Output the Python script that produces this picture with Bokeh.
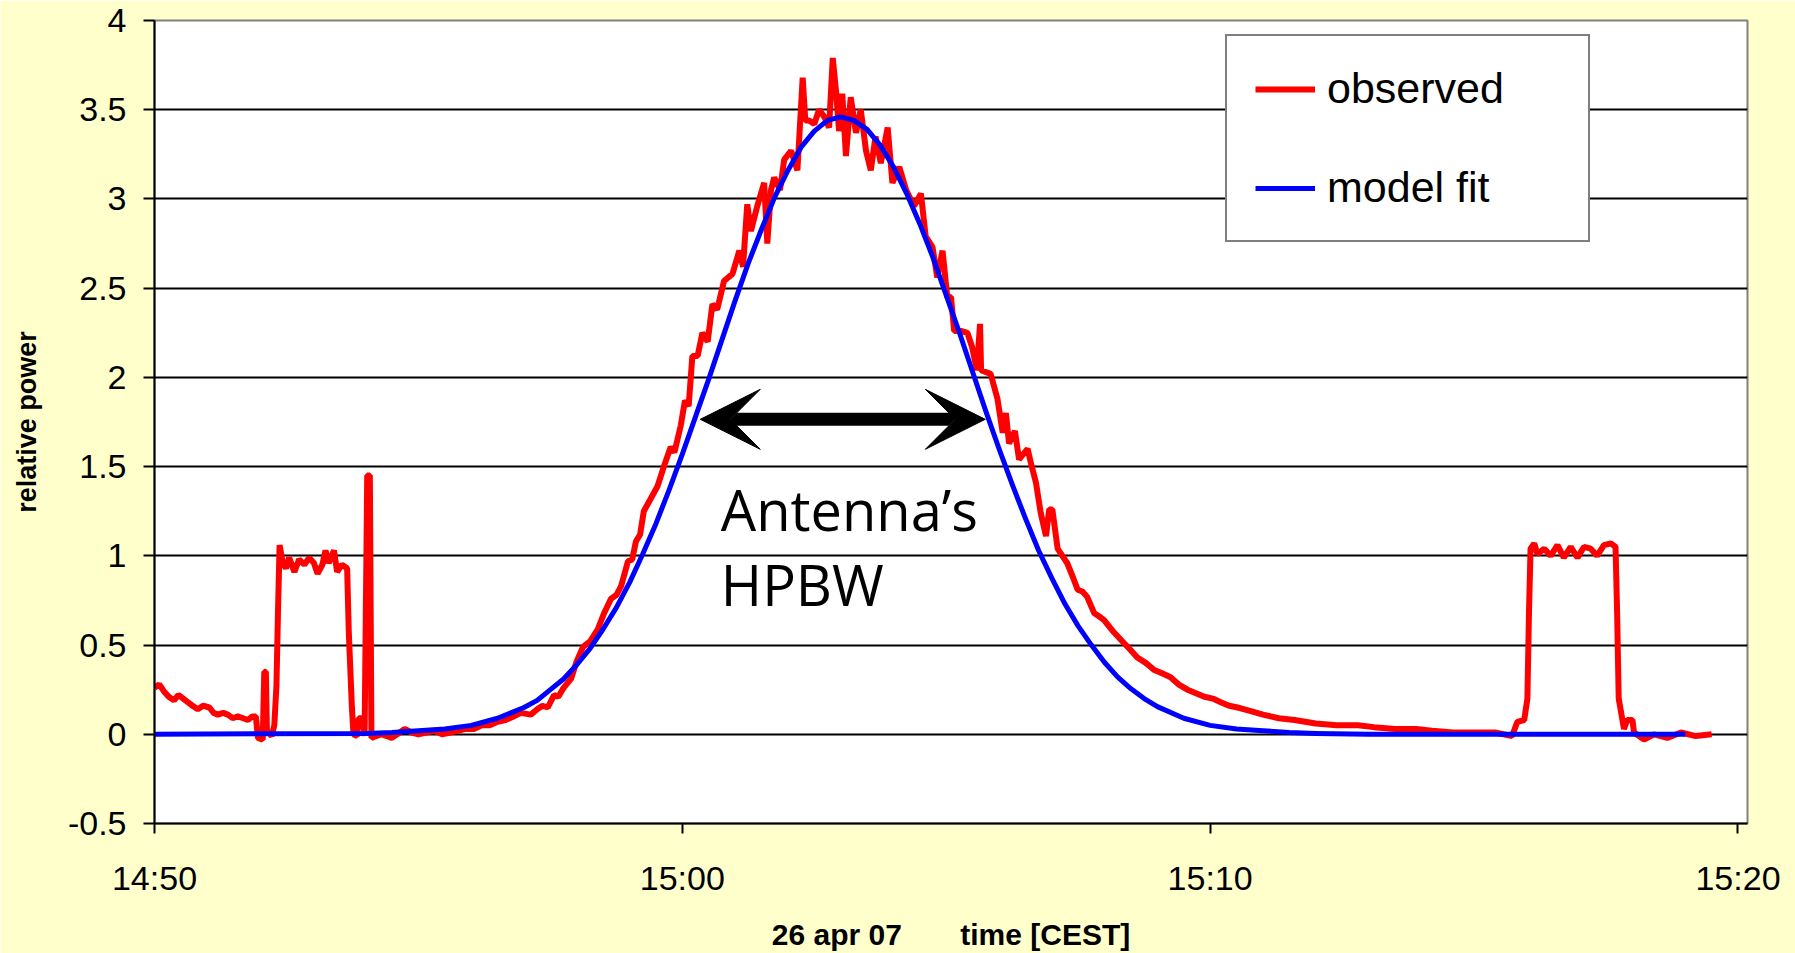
from bokeh.plotting import figure
from bokeh.models import (FixedTicker, Range1d, Legend, LegendItem, Label, Arrow,
                          VeeHead, NumeralTickFormatter)
from bokeh.embed import file_html
from bokeh.resources import INLINE

# ---------------- data (minutes after 14:50, relative power) ----------------
obs_t = [0.00, 0.09, 0.18, 0.27, 0.37, 0.45, 0.50, 0.63, 0.72, 0.82, 0.92, 1.04, 1.12, 1.20,
         1.30, 1.39, 1.48, 1.58, 1.68, 1.77, 1.85, 1.92, 1.96, 2.05, 2.08, 2.11, 2.13, 2.22,
         2.27, 2.31, 2.34, 2.37, 2.43, 2.49, 2.55, 2.65, 2.74, 2.84, 2.93, 3.02, 3.09, 3.18,
         3.24, 3.30, 3.40, 3.46, 3.55, 3.65, 3.68, 3.74, 3.77, 3.84, 3.87, 3.95, 3.98, 4.03,
         4.08, 4.11, 4.20, 4.30, 4.40, 4.49, 4.60, 4.74, 4.87, 5.00, 5.15, 5.30, 5.45, 5.60,
         5.75, 5.90, 6.05, 6.20, 6.35, 6.50, 6.65, 6.80, 6.94, 7.13, 7.25, 7.35, 7.45, 7.57,
         7.65, 7.75, 7.89, 8.00, 8.12, 8.25, 8.40, 8.52, 8.65, 8.75, 8.84, 8.97, 9.05, 9.12,
         9.20, 9.27, 9.40, 9.53, 9.65, 9.78, 9.85, 9.97, 10.05, 10.12, 10.19, 10.29, 10.38,
         10.48, 10.57, 10.66, 10.79, 10.95, 11.08, 11.15, 11.23, 11.30, 11.42, 11.55, 11.61,
         11.68, 11.74, 11.85, 11.93, 12.06, 12.18, 12.28, 12.33, 12.40, 12.50, 12.59, 12.69,
         12.78, 12.85, 12.91, 12.97, 13.03, 13.10, 13.19, 13.29, 13.38, 13.48, 13.57, 13.66,
         13.76, 13.89, 13.98, 14.11, 14.24, 14.39, 14.52, 14.61, 14.74, 14.83, 14.93, 15.02,
         15.09, 15.15, 15.28, 15.40, 15.49, 15.58, 15.64, 15.66, 15.84, 15.97, 16.07, 16.13,
         16.19, 16.30, 16.38, 16.54, 16.62, 16.70, 16.79, 16.89, 16.95, 17.01, 17.11, 17.20,
         17.29, 17.40, 17.49, 17.58, 17.67, 17.80, 17.90, 17.99, 18.18, 18.37, 18.50, 18.62,
         18.78, 18.94, 19.10, 19.25, 19.40, 19.57, 19.73, 19.89, 20.05, 20.20, 20.36, 20.52,
         20.65, 20.77, 21.00, 21.30, 21.60, 22.00, 22.40, 22.80, 23.10, 23.50, 23.90, 24.20,
         24.60, 25.00, 25.40, 25.72, 25.82, 25.95, 26.01, 26.04, 26.07, 26.14, 26.20, 26.33,
         26.45, 26.58, 26.70, 26.83, 26.96, 27.08, 27.21, 27.33, 27.46, 27.59, 27.68, 27.71,
         27.74, 27.84, 27.90, 28.00, 28.03, 28.22, 28.41, 28.66, 28.92, 29.20, 29.50]
obs_y = [0.26, 0.28, 0.24, 0.21, 0.19, 0.22, 0.21, 0.18, 0.16, 0.14, 0.16, 0.15, 0.12, 0.11,
         0.12, 0.11, 0.09, 0.10, 0.09, 0.08, 0.10, 0.10, -0.02, -0.03, 0.35, 0.35, 0.02, -0.01,
         0.05, 0.27, 0.69, 1.06, 0.96, 0.93, 0.99, 0.91, 0.98, 0.95, 0.99, 0.96, 0.90, 0.95,
         1.03, 0.96, 1.03, 0.91, 0.95, 0.93, 0.58, 0.15, 0.00, -0.01, 0.09, 0.09, -0.01, 1.45,
         1.45, -0.02, -0.01, 0.00, -0.01, -0.02, 0.00, 0.03, 0.01, 0.00, 0.01, 0.02, 0.00, 0.01,
         0.02, 0.03, 0.03, 0.05, 0.05, 0.07, 0.08, 0.10, 0.12, 0.11, 0.14, 0.16, 0.15, 0.22,
         0.21, 0.26, 0.31, 0.41, 0.49, 0.52, 0.59, 0.68, 0.76, 0.78, 0.83, 0.97, 0.98, 1.08,
         1.12, 1.25, 1.32, 1.39, 1.50, 1.61, 1.58, 1.73, 1.87, 1.84, 2.12, 2.12, 2.25,
         2.20, 2.41, 2.38, 2.54, 2.58, 2.71, 2.62, 2.97, 2.82, 2.96, 3.09, 2.75,
         3.05, 3.12, 3.05, 3.22, 3.27, 3.16, 3.68, 3.44, 3.44, 3.42, 3.50, 3.46,
         3.40, 3.79, 3.61, 3.38, 3.59, 3.24, 3.57, 3.37, 3.50, 3.27, 3.16, 3.35,
         3.20, 3.40, 3.09, 3.18, 3.05, 2.96, 3.03, 2.79, 2.73, 2.56, 2.71, 2.45,
         2.45, 2.26, 2.26, 2.25, 2.17, 2.04, 2.30, 2.04, 2.02, 1.88, 1.69, 1.80,
         1.63, 1.70, 1.54, 1.60, 1.50, 1.41, 1.24, 1.11, 1.26, 1.26, 1.04, 1.00,
         0.96, 0.88, 0.81, 0.80, 0.77, 0.68, 0.66, 0.64, 0.57, 0.51, 0.47, 0.43,
         0.40, 0.36, 0.34, 0.32, 0.28, 0.25, 0.23, 0.21, 0.20, 0.18, 0.16, 0.15,
         0.14, 0.13, 0.11, 0.09, 0.08, 0.06, 0.05, 0.05, 0.04, 0.03, 0.03, 0.02,
         0.01, 0.01, 0.01, -0.01, 0.07, 0.08, 0.20, 0.68, 1.04, 1.07, 1.01, 1.04,
         1.00, 1.06, 0.99, 1.05, 0.99, 1.05, 1.04, 1.00, 1.06, 1.07, 1.05, 0.68,
         0.20, 0.03, 0.08, 0.08, 0.01, -0.03, 0.00, -0.02, 0.01, -0.01, 0.00]

fit_t = [0.0, 4.0, 4.5, 5.0, 5.5, 6.0, 6.5, 7.0, 7.25, 7.5, 7.75, 8.0, 8.25, 8.5, 8.75, 9.0,
         9.25, 9.5, 9.75, 10.0, 10.25, 10.5, 10.75, 11.0, 11.25, 11.5, 11.75, 12.0, 12.25,
         12.5, 12.75, 13.0, 13.25, 13.5, 13.75, 14.0, 14.25, 14.5, 14.75, 15.0, 15.25, 15.5,
         15.75, 16.0, 16.25, 16.5, 16.75, 17.0, 17.25, 17.5, 17.75, 18.0, 18.25, 18.5, 18.75,
         19.0, 19.5, 20.0, 20.5, 21.0, 21.5, 22.0, 23.0, 29.0]
fit_y = [0.0, 0.005, 0.01, 0.02, 0.03, 0.05, 0.09, 0.15, 0.19, 0.25, 0.31, 0.39, 0.48, 0.59,
         0.71, 0.85, 1.01, 1.18, 1.37, 1.57, 1.78, 1.99, 2.21, 2.43, 2.64, 2.83, 3.01, 3.16,
         3.29, 3.38, 3.44, 3.46, 3.44, 3.39, 3.30, 3.18, 3.03, 2.86, 2.67, 2.46, 2.25, 2.03,
         1.81, 1.60, 1.40, 1.21, 1.03, 0.875, 0.73, 0.606, 0.50, 0.402, 0.32, 0.255, 0.20,
         0.155, 0.09, 0.05, 0.03, 0.02, 0.01, 0.005, 0.0, 0.0]

series_names = ["observed", "model fit"]
x_ticks = [0, 10, 20, 30]
x_tick_labels = ["14:50", "15:00", "15:10", "15:20"]
y_ticks = [-0.5, 0, 0.5, 1, 1.5, 2, 2.5, 3, 3.5, 4]

# ---------------- figure ----------------
p = figure(width=1795, height=953, output_backend="svg", toolbar_location=None,
           title=None, x_range=Range1d(0, 30.18), y_range=Range1d(-0.5, 4),
           min_border_left=154, min_border_right=48, min_border_top=20,
           min_border_bottom=128)
p.background_fill_color = "white"
p.border_fill_color = "#FFFFCC"
p.outline_line_color = "#808080"
p.outline_line_width = 2

FONT = "Liberation Sans"
for ax in (p.xaxis[0], p.yaxis[0]):
    ax.axis_line_color = "black"
    ax.axis_line_width = 2
    ax.major_tick_line_color = "black"
    ax.major_tick_line_width = 2
    ax.major_tick_in = 0
    ax.minor_tick_line_color = None
    ax.major_label_text_font = FONT
    ax.major_label_text_font_size = "34px"
    ax.major_label_text_color = "black"
    ax.axis_label_text_font = FONT
    ax.axis_label_text_font_style = "bold"
    ax.axis_label_text_color = "black"

p.xaxis.ticker = FixedTicker(ticks=x_ticks)
p.xaxis.major_label_overrides = dict(zip(x_ticks, x_tick_labels))
p.xaxis.major_tick_out = 10
p.xaxis.major_label_standoff = 25
p.xaxis.axis_label = "26 apr 07" + "\u00a0" * 7 + "time [CEST]"
p.xaxis.axis_label_text_font_size = "30px"
p.xaxis.axis_label_standoff = 18

p.yaxis.ticker = FixedTicker(ticks=y_ticks)
p.yaxis.formatter = NumeralTickFormatter(format="0.[0]")
p.yaxis.major_tick_out = 11
p.yaxis.major_label_standoff = 17
p.yaxis.axis_label = "relative power"
p.yaxis.axis_label_text_font_size = "27px"
p.yaxis.axis_label_standoff = 23

p.xgrid.visible = False
p.ygrid.grid_line_color = "black"
p.ygrid.grid_line_width = 2

r_obs = p.line(obs_t, obs_y, line_color="#FF0000", line_width=6)
r_fit = p.line(fit_t, fit_y, line_color="#0000FF", line_width=5, line_join="round")

legend = Legend(items=[LegendItem(label=series_names[0], renderers=[r_obs]),
                       LegendItem(label=series_names[1], renderers=[r_fit])],
                location=(1071, 581), padding=28, spacing=50, margin=0,
                glyph_width=60, glyph_height=48, label_height=48, label_width=233,
                label_standoff=12, border_line_color="black", border_line_width=2,
                background_fill_color="white", background_fill_alpha=1.0,
                label_text_font=FONT, label_text_font_size="43px",
                label_text_color="black")
p.add_layout(legend)

# HPBW annotation
hpbw_left, hpbw_right, half_power = 10.34, 15.74, 1.765
p.add_layout(Arrow(start=VeeHead(size=60, fill_color="black", line_color="black"),
                   end=VeeHead(size=60, fill_color="black", line_color="black"),
                   x_start=hpbw_left, y_start=half_power, x_end=hpbw_right, y_end=half_power,
                   line_color="black", line_width=13))
ANN_FONT = "Open Sans"
p.add_layout(Label(x=10.73, y=1.26, text="Antenna\u2019s", text_font=ANN_FONT,
                   text_font_size="56px", text_baseline="alphabetic", text_color="black"))
p.add_layout(Label(x=10.73, y=0.84, text="HPBW", text_font=ANN_FONT,
                   text_font_size="56px", text_baseline="alphabetic", text_color="black"))

open("out.html", "w").write(file_html(p, INLINE))
